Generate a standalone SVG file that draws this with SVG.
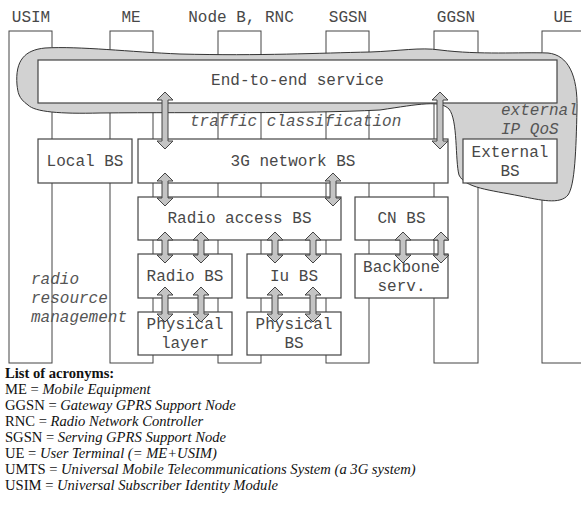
<svg xmlns="http://www.w3.org/2000/svg" width="581" height="506" viewBox="0 0 581 506">
<style>
.col{fill:#fff;stroke:#444;stroke-width:1}
.box{fill:#fff;stroke:#444;stroke-width:1.2}
.t{font-family:"Liberation Mono","Courier New",monospace;font-size:16px;fill:#484848}
.c{text-anchor:middle}
.i{font-style:italic;fill:#555}
.arr{fill:#c4c4c4;stroke:#444;stroke-width:1}
.blob{fill:#d2d2d2;stroke:#333;stroke-width:1}
.lg{font-family:"Liberation Serif","Times New Roman",serif;font-size:14.6px;fill:#111}
</style>
<g id="columns">
<rect id="col-usim" class="col" x="9" y="31" width="43" height="332"/>
<rect id="col-me" class="col" x="110" y="31" width="43" height="332"/>
<rect id="col-nodeb" class="col" x="218" y="31" width="43" height="332"/>
<rect id="col-sgsn" class="col" x="326" y="31" width="43" height="332"/>
<rect id="col-ggsn" class="col" x="434" y="31" width="44" height="332"/>
<rect id="col-ue" class="col" x="542" y="31" width="60" height="332"/>
</g>
<g id="headers" class="t c">
<text x="31" y="22">USIM</text>
<text x="131" y="22">ME</text>
<text x="241" y="22">Node B, RNC</text>
<text x="348" y="22">SGSN</text>
<text x="456" y="22">GGSN</text>
<text x="563" y="22">UE</text>
</g>
<g id="qos-region">
<path class="blob" d="M17,85 C15,60 25,50 45,48 C80,46 130,52 180,54 C260,56 320,53 370,52 C400,51 420,47 440,50 C480,55 520,52 548,53 C568,55 578,75 577,110 C576,150 575,185 568,195 C560,205 540,200 520,196 C490,190 465,188 459,175 C455,160 458,120 449,109 C440,100 420,104 380,110 C300,114 200,112 100,113 C60,114 35,112 28,105 C18,98 18,92 17,85 Z"/>
</g>
<g id="e2e"><rect class="box" x="38" y="60" width="519" height="43"/><text class="t c" x="297.5" y="85">End-to-end service</text></g>
<g id="local-bs"><rect class="box" x="38" y="139" width="94" height="44"/><text class="t c" x="85" y="166">Local BS</text></g>
<g id="net-bs"><rect class="box" x="138" y="139" width="310" height="44"/><text class="t c" x="293" y="166">3G network BS</text></g>
<g id="ext-bs"><rect class="box" x="463" y="139" width="94" height="44"/><text class="t c" x="510" y="157">External</text><text class="t c" x="510" y="176">BS</text></g>
<g id="ra-bs"><rect class="box" x="138" y="197" width="203" height="43"/><text class="t c" x="239.5" y="223">Radio access BS</text></g>
<g id="cn-bs"><rect class="box" x="355" y="197" width="93" height="43"/><text class="t c" x="401.5" y="223">CN BS</text></g>
<g id="radio-bs"><rect class="box" x="138" y="254" width="94" height="44"/><text class="t c" x="185" y="281">Radio BS</text></g>
<g id="iu-bs"><rect class="box" x="247" y="254" width="94" height="44"/><text class="t c" x="294" y="281">Iu BS</text></g>
<g id="backbone"><rect class="box" x="355" y="254" width="93" height="44"/><text class="t c" x="401.5" y="272">Backbone</text><text class="t c" x="401.5" y="291">serv.</text></g>
<g id="phys-layer"><rect class="box" x="138" y="312" width="94" height="43"/><text class="t c" x="185" y="329">Physical</text><text class="t c" x="185" y="348">layer</text></g>
<g id="phys-bs"><rect class="box" x="247" y="312" width="94" height="43"/><text class="t c" x="294" y="329">Physical</text><text class="t c" x="294" y="348">BS</text></g>
<g id="connectors" class="arr">
<polygon points="165,92 173,100 168,100 168,141 173,141 165,149 157,141 162,141 162,100 157,100"/>
<polygon points="440,92 448,100 443,100 443,141 448,141 440,149 432,141 437,141 437,100 432,100"/>
<polygon points="165,173 173,181 168,181 168,198 173,198 165,206 157,198 162,198 162,181 157,181"/>
<polygon points="333,173 341,181 336,181 336,198 341,198 333,206 325,198 330,198 330,181 325,181"/>
<polygon points="165,232 173,240 168,240 168,255 173,255 165,263 157,255 162,255 162,240 157,240"/>
<polygon points="201,232 209,240 204,240 204,255 209,255 201,263 193,255 198,255 198,240 193,240"/>
<polygon points="275,232 283,240 278,240 278,255 283,255 275,263 267,255 272,255 272,240 267,240"/>
<polygon points="313,232 321,240 316,240 316,255 321,255 313,263 305,255 310,255 310,240 305,240"/>
<polygon points="403,232 411,240 406,240 406,255 411,255 403,263 395,255 400,255 400,240 395,240"/>
<polygon points="441,232 449,240 444,240 444,255 449,255 441,263 433,255 438,255 438,240 433,240"/>
<polygon points="165,287 173,295 168,295 168,314 173,314 165,322 157,314 162,314 162,295 157,295"/>
<polygon points="201,287 209,295 204,295 204,314 209,314 201,322 193,314 198,314 198,295 193,295"/>
<polygon points="275,287 283,295 278,295 278,314 283,314 275,322 267,314 272,314 272,295 267,295"/>
<polygon points="313,287 321,295 316,295 316,314 321,314 313,322 305,314 310,314 310,295 305,295"/>
</g>
<g id="labels" class="t i">
<text x="190" y="126">traffic classification</text>
<text x="501" y="115">external</text>
<text x="501" y="134">IP QoS</text>
<text x="31" y="284">radio</text>
<text x="31" y="303">resource</text>
<text x="31" y="322">management</text>
</g>
<g id="legend" class="lg">
<text x="5" y="378" font-weight="bold">List of acronyms:</text>
<text x="5" y="394">ME = <tspan font-style="italic">Mobile Equipment</tspan></text>
<text x="5" y="410">GGSN = <tspan font-style="italic">Gateway GPRS Support Node</tspan></text>
<text x="5" y="426">RNC = <tspan font-style="italic">Radio Network Controller</tspan></text>
<text x="5" y="442">SGSN = <tspan font-style="italic">Serving GPRS Support Node</tspan></text>
<text x="5" y="458">UE = <tspan font-style="italic">User Terminal (= ME+USIM)</tspan></text>
<text x="5" y="474">UMTS = <tspan font-style="italic">Universal Mobile Telecommunications System (a 3G system)</tspan></text>
<text x="5" y="490">USIM = <tspan font-style="italic">Universal Subscriber Identity Module</tspan></text>
</g>
</svg>
